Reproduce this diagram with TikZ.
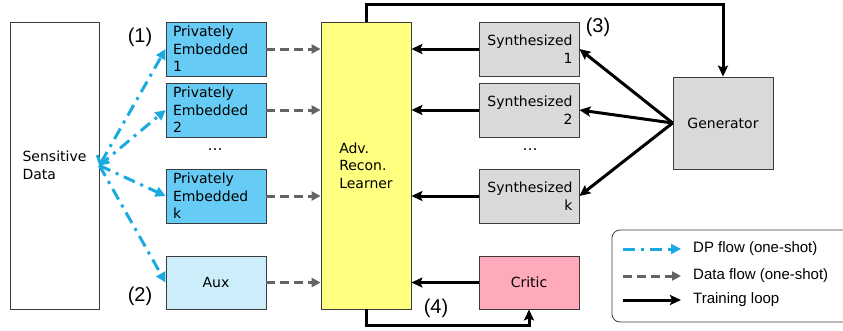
\documentclass[tikz,border=0pt]{standalone}
\usepackage{fontspec}
\setmainfont{DejaVu Sans}
\newfontfamily\legfont{Liberation Sans}
\usetikzlibrary{arrows.meta}
\definecolor{pecol}{RGB}{102,204,245}
\definecolor{auxcol}{RGB}{204,238,250}
\definecolor{advcol}{RGB}{255,255,128}
\definecolor{syncol}{RGB}{217,217,217}
\definecolor{critcol}{RGB}{255,170,187}
\definecolor{dpblue}{RGB}{26,170,225}
\definecolor{dgray}{RGB}{100,100,100}
\definecolor{bordercol}{RGB}{60,60,60}
\tikzset{
  box/.style={draw=bordercol, line width=0.8pt, inner sep=0pt, font=\fontsize{14}{17.5}\selectfont},
  pebox/.style={box, fill=pecol, minimum width=100pt, minimum height=54pt, text width=86pt, align=left},
  synbox/.style={box, fill=syncol, minimum width=100pt, minimum height=54pt, text width=87pt, align=right},
  dpflow/.style={dpblue, line width=3pt, dash pattern=on 12pt off 6pt on 3pt off 6pt, -{Triangle[length=10pt,width=10pt]}},
  dpboth/.style={dpblue, line width=3pt, dash pattern=on 12pt off 6pt on 3pt off 6pt, {Straight Barb[length=6pt,width=14pt]}-{Triangle[length=10pt,width=10pt]}},
  dataflow/.style={dgray, line width=3pt, dash pattern=on 9pt off 5pt, -{Triangle[length=9pt,width=9pt]}},
  trainloop/.style={black, line width=3pt, -{Stealth[length=11pt,width=10pt,inset=2pt]}},
  lbl/.style={font=\legfont\fontsize{20}{23}\selectfont},
  legtext/.style={font=\legfont\fontsize{15}{18}\selectfont, anchor=west, inner sep=0pt},
  dotsnode/.style={font=\fontsize{15}{17}\selectfont}
}
\begin{document}
\begin{tikzpicture}[x=1pt,y=-1pt]
\useasboundingbox (0,0) rectangle (843,330);
% nodes
\node[box, fill=white, minimum width=89pt, minimum height=287pt, align=left] (sd) at (54.5,165.5) {Sensitive\\Data};
\node[pebox] (pe1) at (216,49) {Privately\\Embedded\\1};
\node[pebox] (pe2) at (216,110) {Privately\\Embedded\\2};
\node[pebox] (pek) at (216,196) {Privately\\Embedded\\k};
\node[box, fill=auxcol, minimum width=100pt, minimum height=53pt] (aux) at (216,282.5) {Aux};
\node[dotsnode] (d1) at (215,150) {…};
\node[box, fill=advcol, minimum width=90pt, minimum height=287pt, align=left] (adv) at (366,165.5) {Adv.\\Recon.\\Learner};
\node[synbox] (s1) at (529,49) {Synthesized\\1};
\node[synbox] (s2) at (529,110) {Synthesized\\2};
\node[synbox] (sk) at (529,196) {Synthesized\\k};
\node[dotsnode] (d2) at (530,150) {…};
\node[box, fill=critcol, minimum width=100pt, minimum height=53pt] (critic) at (529,282.5) {Critic};
\node[box, fill=syncol, minimum width=100pt, minimum height=92pt] (gen) at (723,123) {Generator};
% labels
\node[lbl] (l1) at (140,37) {(1)};
\node[lbl] (l2) at (140,296) {(2)};
\node[lbl] (l3) at (598,27) {(3)};
\node[lbl] (l4) at (436,308) {(4)};
% DP flows
\draw[dpboth] (sd.east) -- (pe1.west);
\draw[dpflow] (sd.east) -- (pe2.west);
\draw[dpflow] (sd.east) -- (pek.west);
\draw[dpflow] (sd.east) -- (aux.west);
% data flows
\draw[dataflow] (pe1.east) -- (adv.west |- pe1.east);
\draw[dataflow] (pe2.east) -- (adv.west |- pe2.east);
\draw[dataflow] (pek.east) -- (adv.west |- pek.east);
\draw[dataflow] (aux.east) -- (adv.west |- aux.east);
% training loop
\draw[trainloop] (s1.west) -- (adv.east |- s1.west);
\draw[trainloop] (s2.west) -- (adv.east |- s2.west);
\draw[trainloop] (sk.west) -- (adv.east |- sk.west);
\draw[trainloop] (critic.west) -- (adv.east |- critic.west);
\draw[trainloop] (gen.west) -- (s1.east);
\draw[trainloop] (gen.west) -- (s2.east);
\draw[trainloop] (gen.west) -- (sk.east);
\draw[trainloop] (adv.north) -- ++(0,-17) -| (gen.north);
\draw[trainloop] (adv.south) -- ++(0,16) -| (critic.south);
% legend
\draw[bordercol, line width=0.8pt, rounded corners=8pt] (612,230) rectangle (870,322);
\coordinate (la1) at (623,249); \coordinate (lb1) at (681,249);
\coordinate (la2) at (623,276); \coordinate (lb2) at (681,276);
\coordinate (la3) at (623,300); \coordinate (lb3) at (681,300);
\draw[dpflow] (la1) -- (lb1);
\draw[dataflow] (la2) -- (lb2);
\draw[trainloop] (la3) -- (lb3);
\node[legtext] (t1) at (693,249) {DP flow (one-shot)};
\node[legtext] (t2) at (693,276) {Data flow (one-shot)};
\node[legtext] (t3) at (693,300) {Training loop};
\end{tikzpicture}
\end{document}
